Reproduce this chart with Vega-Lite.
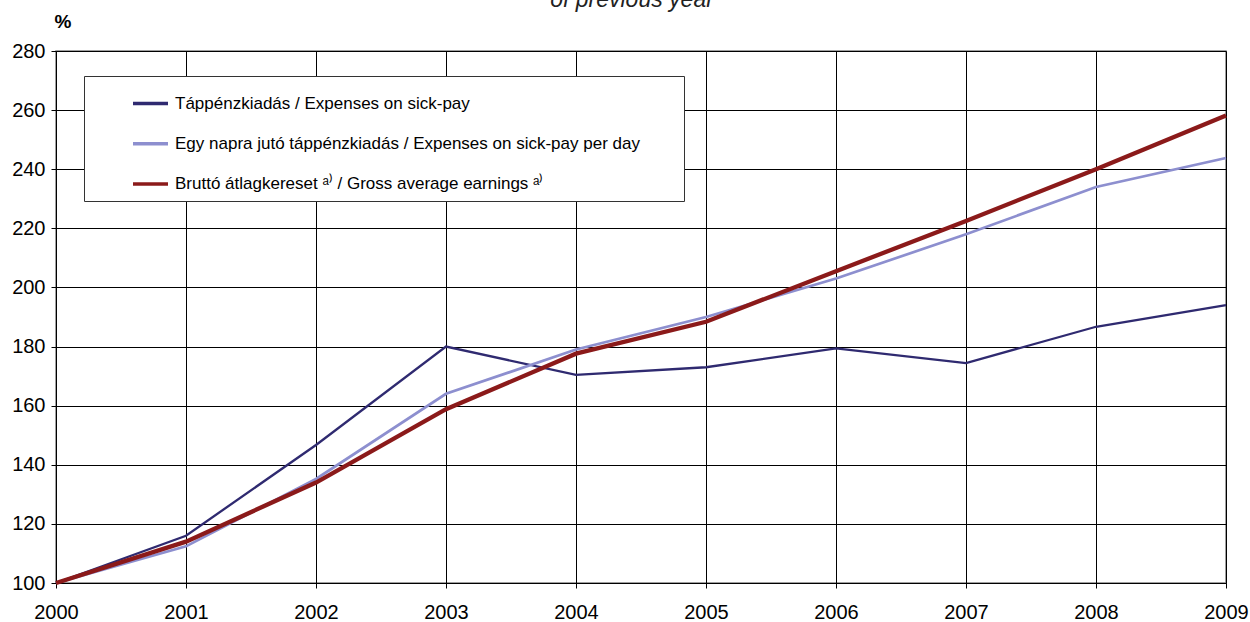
{
  "$schema": "https://vega.github.io/schema/vega-lite/v6.json",
  "width": 1170,
  "height": 532,
  "autosize": {"type": "none"},
  "padding": {"left": 56, "top": 51, "right": 24, "bottom": 39},
  "background": "white",
  "title": {
    "text": "of previous year",
    "fontStyle": "italic",
    "fontWeight": "normal",
    "fontSize": 23,
    "font": "Liberation Sans",
    "color": "#222222",
    "anchor": "middle",
    "baseline": "alphabetic",
    "offset": -17,
    "dx": -9
  },
  "config": {
    "font": "Liberation Sans",
    "view": {"stroke": "#808080", "strokeWidth": 1.5},
    "axis": {
      "gridColor": "#000000",
      "gridOpacity": 1,
      "gridWidth": 1,
      "domainColor": "#000000",
      "tickColor": "#000000",
      "labelFont": "Liberation Sans",
      "labelFontSize": 20,
      "labelColor": "#000000",
      "tickSize": 5
    }
  },
  "data": {
    "values": [
      {"year": 2000, "series": "Táppénzkiadás / Expenses on sick-pay", "value": 100},
      {"year": 2001, "series": "Táppénzkiadás / Expenses on sick-pay", "value": 116},
      {"year": 2002, "series": "Táppénzkiadás / Expenses on sick-pay", "value": 146.7},
      {"year": 2003, "series": "Táppénzkiadás / Expenses on sick-pay", "value": 180},
      {"year": 2004, "series": "Táppénzkiadás / Expenses on sick-pay", "value": 170.4},
      {"year": 2005, "series": "Táppénzkiadás / Expenses on sick-pay", "value": 173},
      {"year": 2006, "series": "Táppénzkiadás / Expenses on sick-pay", "value": 179.4},
      {"year": 2007, "series": "Táppénzkiadás / Expenses on sick-pay", "value": 174.4},
      {"year": 2008, "series": "Táppénzkiadás / Expenses on sick-pay", "value": 186.7},
      {"year": 2009, "series": "Táppénzkiadás / Expenses on sick-pay", "value": 194},
      {"year": 2000, "series": "Egy napra jutó táppénzkiadás / Expenses on sick-pay per day", "value": 100},
      {"year": 2001, "series": "Egy napra jutó táppénzkiadás / Expenses on sick-pay per day", "value": 112.4},
      {"year": 2002, "series": "Egy napra jutó táppénzkiadás / Expenses on sick-pay per day", "value": 135.2},
      {"year": 2003, "series": "Egy napra jutó táppénzkiadás / Expenses on sick-pay per day", "value": 164},
      {"year": 2004, "series": "Egy napra jutó táppénzkiadás / Expenses on sick-pay per day", "value": 179},
      {"year": 2005, "series": "Egy napra jutó táppénzkiadás / Expenses on sick-pay per day", "value": 190},
      {"year": 2006, "series": "Egy napra jutó táppénzkiadás / Expenses on sick-pay per day", "value": 203},
      {"year": 2007, "series": "Egy napra jutó táppénzkiadás / Expenses on sick-pay per day", "value": 218},
      {"year": 2008, "series": "Egy napra jutó táppénzkiadás / Expenses on sick-pay per day", "value": 234},
      {"year": 2009, "series": "Egy napra jutó táppénzkiadás / Expenses on sick-pay per day", "value": 243.8},
      {"year": 2000, "series": "Bruttó átlagkereset ᵃ⁾ / Gross average earnings ᵃ⁾", "value": 100},
      {"year": 2001, "series": "Bruttó átlagkereset ᵃ⁾ / Gross average earnings ᵃ⁾", "value": 114},
      {"year": 2002, "series": "Bruttó átlagkereset ᵃ⁾ / Gross average earnings ᵃ⁾", "value": 134},
      {"year": 2003, "series": "Bruttó átlagkereset ᵃ⁾ / Gross average earnings ᵃ⁾", "value": 158.8},
      {"year": 2004, "series": "Bruttó átlagkereset ᵃ⁾ / Gross average earnings ᵃ⁾", "value": 177.6},
      {"year": 2005, "series": "Bruttó átlagkereset ᵃ⁾ / Gross average earnings ᵃ⁾", "value": 188.4},
      {"year": 2006, "series": "Bruttó átlagkereset ᵃ⁾ / Gross average earnings ᵃ⁾", "value": 205.5},
      {"year": 2007, "series": "Bruttó átlagkereset ᵃ⁾ / Gross average earnings ᵃ⁾", "value": 222.5},
      {"year": 2008, "series": "Bruttó átlagkereset ᵃ⁾ / Gross average earnings ᵃ⁾", "value": 240},
      {"year": 2009, "series": "Bruttó átlagkereset ᵃ⁾ / Gross average earnings ᵃ⁾", "value": 258.2}
    ]
  },
  "mark": {"type": "line", "strokeJoin": "miter", "clip": false},
  "encoding": {
    "x": {
      "field": "year",
      "type": "quantitative",
      "scale": {"domain": [2000, 2009], "nice": false, "zero": false},
      "axis": {
        "values": [2000, 2001, 2002, 2003, 2004, 2005, 2006, 2007, 2008, 2009],
        "format": "d",
        "title": null,
        "grid": true,
        "labelBaseline": "alphabetic",
        "labelPadding": 30,
        "labelFlush": false
      }
    },
    "y": {
      "field": "value",
      "type": "quantitative",
      "scale": {"domain": [100, 280], "nice": false, "zero": false},
      "axis": {
        "values": [100, 120, 140, 160, 180, 200, 220, 240, 260, 280],
        "grid": true,
        "labelPadding": 6,
        "title": "%",
        "titleAngle": 0,
        "titleX": 6.5,
        "titleY": -29.5,
        "titleAlign": "center",
        "titleBaseline": "middle",
        "titleFont": "Liberation Sans",
        "titleFontSize": 19,
        "titleFontWeight": "bold",
        "titleColor": "#000000"
      }
    },
    "color": {
      "field": "series",
      "type": "nominal",
      "scale": {
        "domain": [
          "Táppénzkiadás / Expenses on sick-pay",
          "Egy napra jutó táppénzkiadás / Expenses on sick-pay per day",
          "Bruttó átlagkereset ᵃ⁾ / Gross average earnings ᵃ⁾"
        ],
        "range": ["#2f2a70", "#8d8fcf", "#8b1a1a"]
      },
      "legend": {
        "title": null,
        "orient": "none",
        "legendX": 28,
        "legendY": 25,
        "direction": "vertical",
        "padding": 8,
        "fillColor": "white",
        "strokeColor": "#333333",
        "symbolType": "stroke",
        "symbolSize": 1225,
        "symbolStrokeWidth": 3.5,
        "symbolOffset": 39,
        "labelFont": "Liberation Sans",
        "labelFontSize": 17,
        "labelColor": "#000000",
        "labelLimit": 800,
        "labelOffset": 5,
        "labelExpr": "datum.label + '\u2800\u2800\u2800'",
        "rowPadding": 12.3
      }
    },
    "strokeWidth": {
      "condition": [
        {"test": "indexof(datum.series, 'Bruttó') === 0", "value": 4.3},
        {"test": "indexof(datum.series, 'Egy') === 0", "value": 2.7}
      ],
      "value": 2.3
    }
  }
}
